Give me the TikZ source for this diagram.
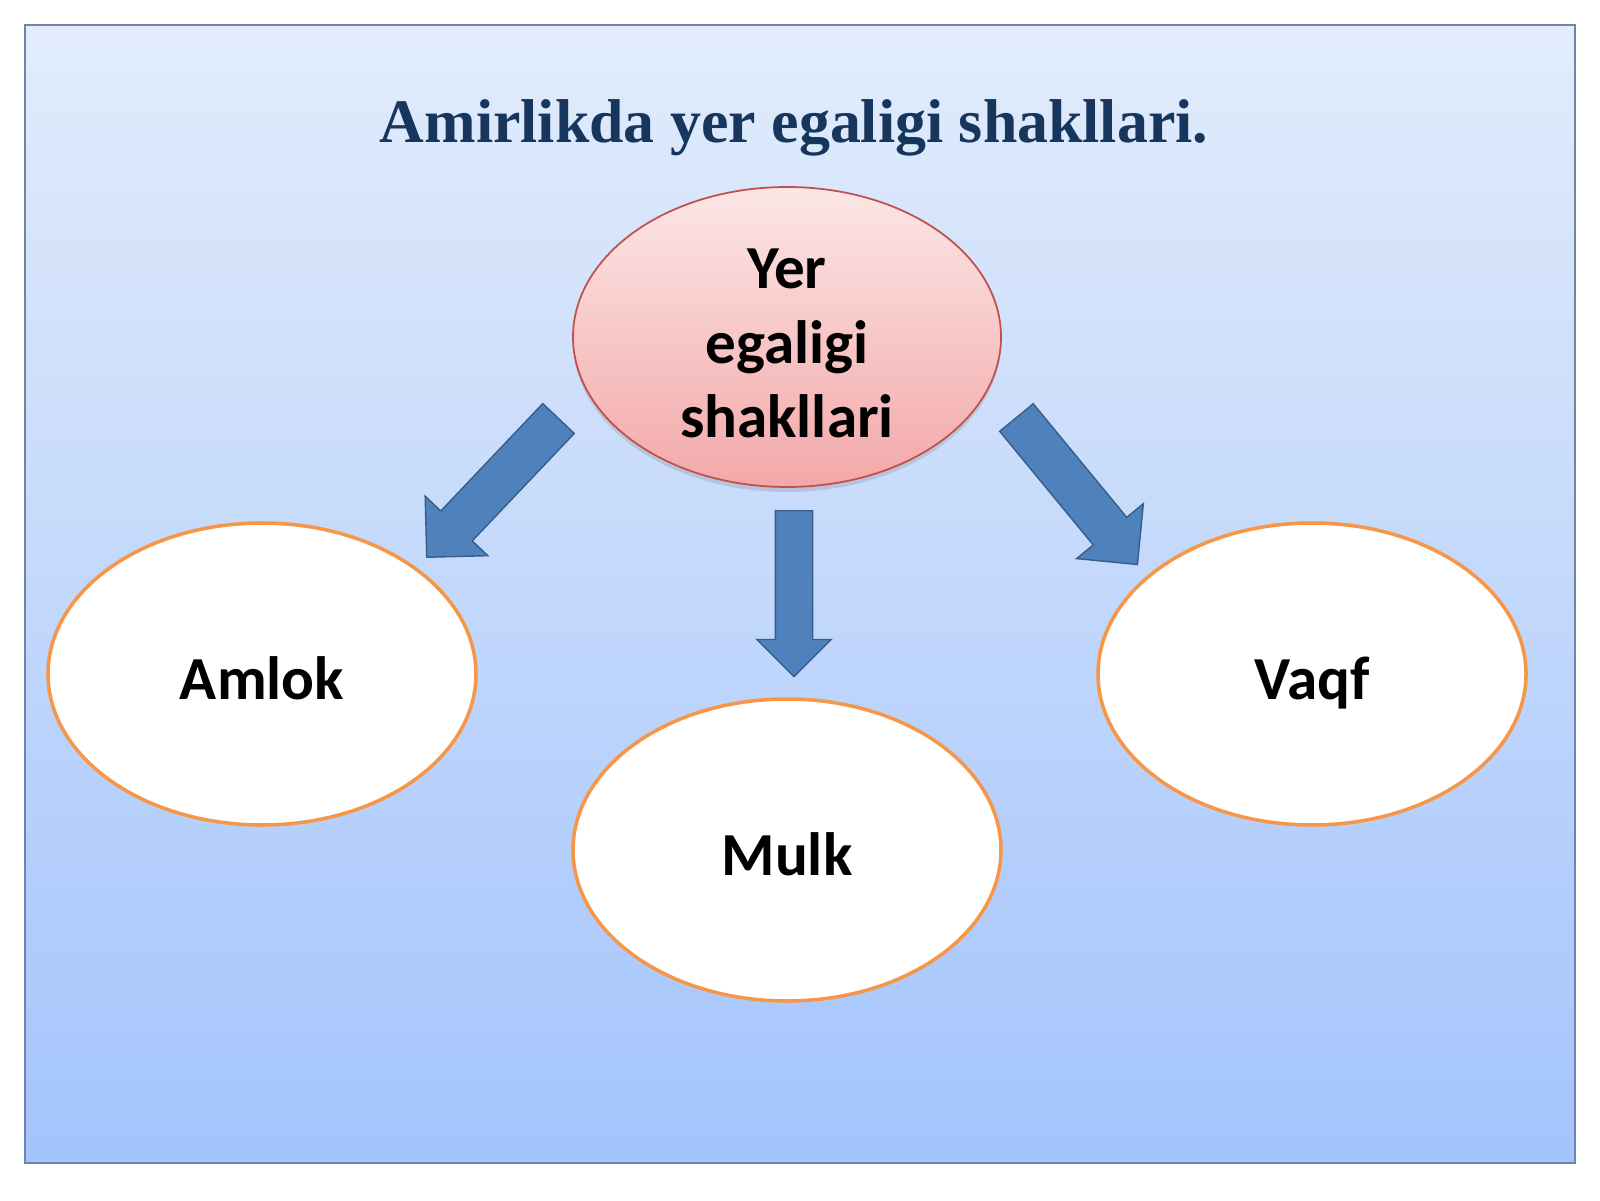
\documentclass[tikz,border=0pt]{standalone}
\usepackage{fontspec}
\setmainfont{Carlito}
\newfontfamily\titlefont{Liberation Serif}
\usepackage{tikz}
\usetikzlibrary{shapes.geometric,shapes.arrows,calc,shadows}

\definecolor{slidetop}{RGB}{226,236,251}
\definecolor{slidebottom}{RGB}{163,196,252}
\definecolor{slideedge}{RGB}{112,132,170}
\definecolor{titleblue}{RGB}{23,54,93}
\definecolor{pinktop}{RGB}{252,230,230}
\definecolor{pinkbottom}{RGB}{243,168,168}
\definecolor{pinkedge}{RGB}{192,80,77}
\definecolor{formorange}{RGB}{247,150,70}
\definecolor{arrowblue}{RGB}{79,129,189}
\definecolor{arrowedge}{RGB}{56,93,138}

\tikzset{
	formtext/.style={font=\fontsize{17.4}{21.3}\selectfont\bfseries},
	mainform/.style={ellipse, draw=pinkedge, line width=0.5pt, top color=pinktop, bottom color=pinkbottom,
		minimum width=4.28cm, minimum height=3cm, inner sep=0pt, align=center, formtext,
		drop shadow={opacity=0.25, shadow xshift=0pt, shadow yshift=-0.05cm}},
	subform/.style={ellipse, draw=formorange, line width=1pt, fill=white,
		minimum width=4.28cm, minimum height=3.02cm, formtext, text height=14.5pt, text depth=0pt},
	bigarrow/.style={single arrow, draw=arrowedge, fill=arrowblue, line width=0.4pt,
		inner sep=0.21cm, single arrow head extend=0.215cm, single arrow tip angle=90}
}

% block arrow from tail point to tip point
\newcommand{\blockarrow}[3][]{%
	\path let \p1=($(#3)-(#2)$), \n1={atan2(\y1,\x1)}, \n2={veclen(\x1,\y1)} in
		node[bigarrow, #1, rotate=\n1, minimum height=\n2, anchor=tail] at (#2) {};
}

\begin{document}
\begin{tikzpicture}
				\useasboundingbox (0,0) rectangle (16,12);
				
				\shade[top color=slidetop, bottom color=slidebottom] (0.25,0.37) rectangle (15.75,11.75);
				\draw [slideedge, line width=0.6pt] (0.25,0.37) rectangle (15.75,11.75);
				
				\node (title) [anchor=base, text=titleblue, font=\titlefont\bfseries\fontsize{17.6}{21}\selectfont] at (7.94,10.57) {Amirlikda yer egaligi shakllari.};
				
				\node (yer) [mainform] at (7.87,8.63) {\rule{0pt}{15pt}Yer\\egaligi\\shakllari};
				\node (amlok) [subform] at (2.62,5.26) {Amlok};
				\node (mulk) [subform] at (7.87,3.50) {Mulk};
				\node (vaqf) [subform] at (13.12,5.26) {Vaqf};
				
				\coordinate (amlokTail) at (5.59,7.82);
				\coordinate (amlokTip) at (4.27,6.43);
				\coordinate (mulkTail) at (7.94,6.90);
				\coordinate (mulkTip) at (7.94,5.24);
				\coordinate (vaqfTail) at (10.16,7.83);
				\coordinate (vaqfTip) at (11.37,6.36);
				
				\blockarrow{amlokTail}{amlokTip}
				\blockarrow[inner sep=0.18cm, single arrow head extend=0.185cm]{mulkTail}{mulkTip}
				\blockarrow{vaqfTail}{vaqfTip}
				\end{tikzpicture}
\end{document}
